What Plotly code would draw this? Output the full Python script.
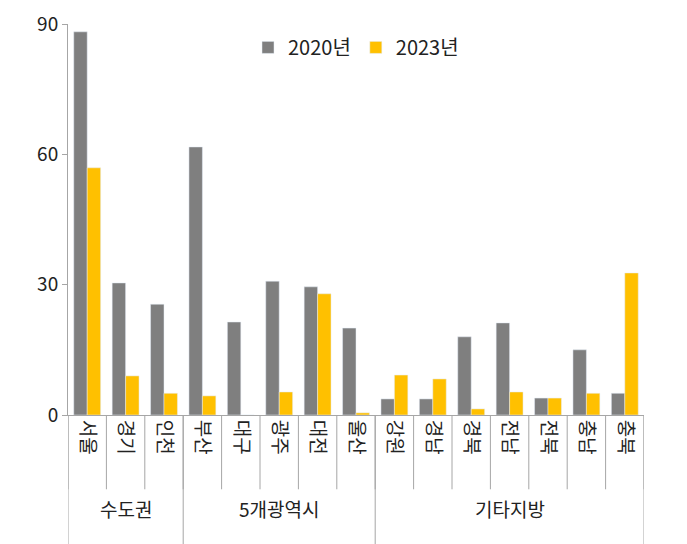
import plotly.graph_objects as go

regions = ["서울", "경기", "인천", "부산", "대구", "광주", "대전", "울산",
           "강원", "경남", "경북", "전남", "전북", "충남", "충북"]
groups = ["수도권", "5개광역시", "기타지방"]
group_sizes = [3, 5, 7]
y2020 = [88.2, 30.4, 25.5, 61.7, 21.4, 30.8, 29.5, 20.0, 3.7, 3.7, 18.0, 21.2, 3.9, 15.0, 5.0]
y2023 = [56.9, 9.0, 5.0, 4.4, 0.0, 5.3, 27.9, 0.5, 9.2, 8.3, 1.4, 5.3, 3.9, 5.0, 32.7]

font = "Noto Sans CJK KR"
fig = go.Figure()
fig.add_trace(go.Bar(x=regions, y=y2020, name="2020년", marker_color="#7f7f7f"))
fig.add_trace(go.Bar(x=regions, y=y2023, name="2023년", marker_color="#ffc000"))

shapes = []
# short separators between regions
for i in range(len(regions) + 1):
    shapes.append(dict(type="line", xref="x", yref="paper", x0=i - 0.5, x1=i - 0.5,
                       y0=0, y1=-0.19, line=dict(color="#a6a6a6", width=1)))
# long separators between groups
pos = -0.5
annos = []
shapes.append(dict(type="line", xref="x", yref="paper", x0=pos, x1=pos, y0=0, y1=-0.33,
                   line=dict(color="#a6a6a6", width=1)))
for g, n in zip(groups, group_sizes):
    annos.append(dict(x=pos + n / 2, y=-0.28, xref="x", yref="paper", text=g,
                      showarrow=False, font=dict(size=19, color="#222", family=font)))
    pos += n
    shapes.append(dict(type="line", xref="x", yref="paper", x0=pos, x1=pos, y0=0, y1=-0.33,
                       line=dict(color="#a6a6a6", width=1)))

fig.update_layout(
    width=687, height=544,
    margin=dict(l=60, r=51, t=16, b=137, autoexpand=False),
    plot_bgcolor="white", paper_bgcolor="white",
    font=dict(family=font, size=19, color="#222"),
    barmode="group", bargap=0.3, bargroupgap=0,
    legend=dict(orientation="h", x=0.5, xanchor="center", y=0.99, yanchor="top",
                font=dict(size=20), itemwidth=30),
    shapes=shapes, annotations=annos,
    xaxis=dict(tickangle=90, showline=True, linecolor="#a6a6a6", ticks="",
               tickfont=dict(size=19), range=[-0.5, 14.5], automargin=False),
    yaxis=dict(range=[0, 90], tickvals=[0, 30, 60, 90], showgrid=False,
               showline=True, linecolor="#a6a6a6", ticks="outside", ticklen=5,
               tickcolor="#a6a6a6", tickfont=dict(size=19), automargin=False),
)
fig.write_html("out.html")
